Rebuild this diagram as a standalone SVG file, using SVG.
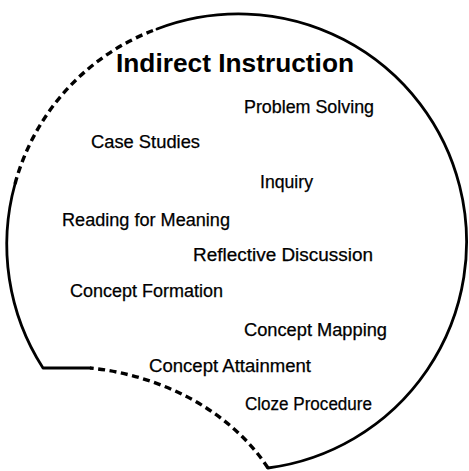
<svg xmlns="http://www.w3.org/2000/svg" width="469" height="471" viewBox="0 0 469 471">
<style>
.solid{fill:none;stroke:#000;stroke-width:2.8;stroke-linecap:round;stroke-linejoin:round}
.dash{fill:none;stroke:#000;stroke-width:3.4;stroke-dasharray:7 4.5}
.t{font-family:"Liberation Sans",Arial,Helvetica,sans-serif;font-size:17.5px;fill:#000;stroke:#000;stroke-width:0.25}
.title{font-family:"Liberation Sans",Arial,Helvetica,sans-serif;font-size:26px;font-weight:bold;fill:#000}
</style>
<rect width="469" height="471" fill="#fff"/>
<g id="outline">
<path class="dash" d="M 15 184 A 228 228 0 0 1 157 29"/>
<path class="solid" d="M 157 29 A 228 228 0 1 1 268 468"/>
<path class="dash" d="M 268 468 C 230 410 160 375 90 368"/>
<path class="solid" d="M 90 368 L 43 368 A 228 228 0 0 1 15 184"/>
</g>
<g id="labels">
<text id="title" class="title" x="116" y="72" textLength="238" lengthAdjust="spacingAndGlyphs">Indirect Instruction</text>
<text id="problem-solving" class="t" x="244" y="113" textLength="130" lengthAdjust="spacingAndGlyphs">Problem Solving</text>
<text id="case-studies" class="t" x="91" y="148" textLength="109" lengthAdjust="spacingAndGlyphs">Case Studies</text>
<text id="inquiry" class="t" x="260" y="188" textLength="53" lengthAdjust="spacingAndGlyphs">Inquiry</text>
<text id="reading" class="t" x="62" y="226" textLength="168" lengthAdjust="spacingAndGlyphs">Reading for Meaning</text>
<text id="reflective" class="t" x="193" y="261" textLength="180" lengthAdjust="spacingAndGlyphs">Reflective Discussion</text>
<text id="formation" class="t" x="70" y="297" textLength="153" lengthAdjust="spacingAndGlyphs">Concept Formation</text>
<text id="mapping" class="t" x="244" y="336" textLength="143" lengthAdjust="spacingAndGlyphs">Concept Mapping</text>
<text id="attainment" class="t" x="149" y="372" textLength="162" lengthAdjust="spacingAndGlyphs">Concept Attainment</text>
<text id="cloze" class="t" x="245" y="410" textLength="127" lengthAdjust="spacingAndGlyphs">Cloze Procedure</text>
</g>
</svg>
